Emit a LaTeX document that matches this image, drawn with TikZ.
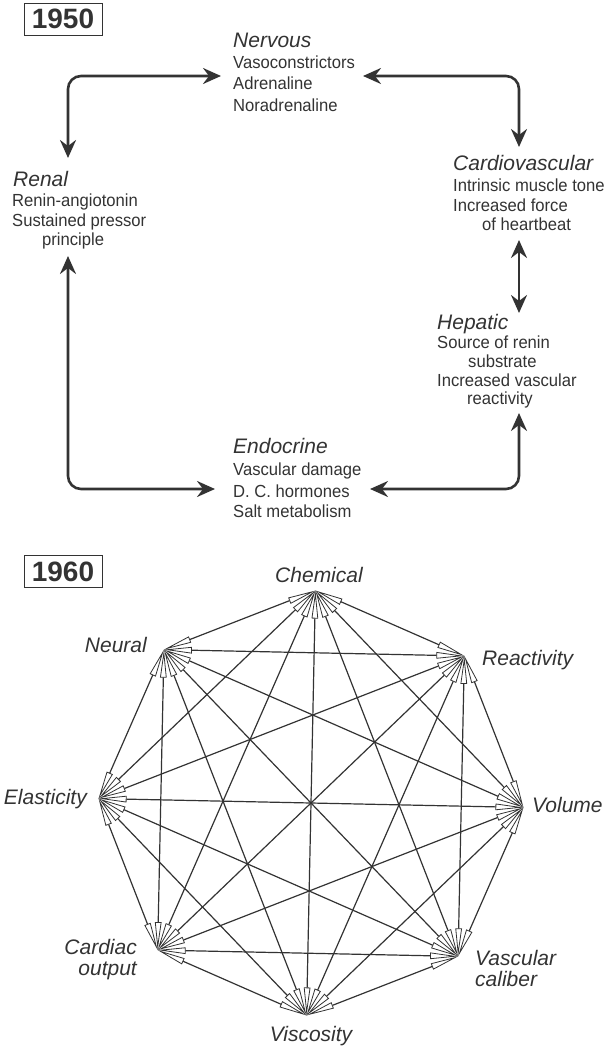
\documentclass[tikz,border=0pt]{standalone}
\usepackage{fontspec}
\setmainfont{Liberation Sans}
\newfontfamily\bodyfamily[FakeStretch=0.95]{Liberation Sans}
\usetikzlibrary{arrows.meta}
\definecolor{ink}{HTML}{333333}

\begin{document}
\begin{tikzpicture}[x=1pt,y=-1pt,
  heading/.style={font=\fontsize{21}{24}\selectfont\itshape, text=ink, inner sep=0pt, anchor=base west},
  bodyline/.style={font=\bodyfamily\fontsize{17.5}{21}\selectfont, text=ink, inner sep=0pt, anchor=base west},
  yearbox/.style={draw=ink, line width=0.8pt, font=\fontsize{28}{30}\selectfont\bfseries, text=ink,
    inner xsep=0pt, inner ysep=6pt, text height=20pt, text depth=0pt, minimum width=78pt},
  link/.style={draw=ink, line width=2.6pt, rounded corners=13pt, {Stealth[length=18pt,width=16pt,inset=6pt]}-{Stealth[length=18pt,width=16pt,inset=6pt]}},
  edge/.style={draw=ink, line width=1.2pt,
    {Triangle[length=28pt,width=6.5pt,fill=white,line width=0.8pt]}-{Triangle[length=28pt,width=6.5pt,fill=white,line width=0.8pt]}},
  vlabel/.style={font=\fontsize{21}{24}\selectfont\itshape, text=ink, inner sep=0pt}
]
\useasboundingbox (0,0) rectangle (607,1048);

% ---------- 1950: ring of five systems ----------
\node[yearbox] (y1950) at (63,19) {1950};

\node[heading] (nervous) at (233,48) {Nervous};
\node[bodyline] (nerv1) at (233,69) {Vasoconstrictors};
\node[bodyline] (nerv2) at (233,90) {Adrenaline};
\node[bodyline] (nerv3) at (233,112) {Noradrenaline};

\node[heading] (renal) at (13,187) {Renal};
\node[bodyline] (ren1) at (12,207) {Renin-angiotonin};
\node[bodyline] (ren2) at (12,227) {Sustained pressor};
\node[bodyline] (ren3) at (42,246) {principle};

\node[heading] (cardio) at (453,171) {Cardiovascular};
\node[bodyline] (car1) at (453,192) {Intrinsic muscle tone};
\node[bodyline] (car2) at (453,212) {Increased force};
\node[bodyline] (car3) at (482,231) {of heartbeat};

\node[heading] (hepatic) at (437,329) {Hepatic};
\node[bodyline] (hep1) at (437,348) {Source of renin};
\node[bodyline] (hep2) at (468,367) {substrate};
\node[bodyline] (hep3) at (437,386) {Increased vascular};
\node[bodyline] (hep4) at (467,404) {reactivity};

\node[heading] (endocrine) at (233,453) {Endocrine};
\node[bodyline] (end1) at (233,475) {Vascular damage};
\node[bodyline] (end2) at (233,497) {D. C. hormones};
\node[bodyline] (end3) at (233,517) {Salt metabolism};

% arrow ends beside each block
\coordinate (renalN) at (68,158);
\coordinate (renalS) at (68,256);
\coordinate (nervW) at (221,76);
\coordinate (nervE) at (363,76);
\coordinate (cardN) at (519,147);
\coordinate (cardS) at (519,240);
\coordinate (hepN) at (519,313);
\coordinate (hepS) at (519,413);
\coordinate (endW) at (215,489);
\coordinate (endE) at (370,489);

\draw[link] (renalN) |- (nervW);
\draw[link] (nervE) -| (cardN);
\draw[link] (cardS) -- (hepN);
\draw[link] (hepS) |- (endE);
\draw[link] (renalS) |- (endW);

% ---------- 1960: every factor linked to every other ----------
\node[yearbox] (y1960) at (63,571) {1960};

\foreach \k/\a in {1/88.8, 2/43.8, 3/-1.2, 4/-46.2, 5/-91.2, 6/-136.2, 7/178.8, 8/133.8}
  \coordinate (v\k) at ({311+212.5*cos(\a)},{803-212.5*sin(\a)});

\foreach \i in {1,...,7}{
  \pgfmathtruncatemacro{\first}{\i+1}
  \foreach \j in {\first,...,8}{
    \draw[edge] (v\i) -- (v\j);
  }
}

\node[vlabel, anchor=base] (chemical) at (319,582) {Chemical};
\node[vlabel, anchor=base west] (reactivity) at (482,665) {Reactivity};
\node[vlabel, anchor=base west] (volume) at (532,812) {Volume};
\node[vlabel, anchor=base west, text depth=0pt] (vascular) at (475,965) {Vascular};
\node[vlabel, anchor=base west, text height=11pt] (caliber) at (475,986) {caliber};
\node[vlabel, anchor=base] (viscosity) at (311,1041) {Viscosity};
\node[vlabel, anchor=base east, text depth=0pt] (cardiac) at (137,954) {Cardiac};
\node[vlabel, anchor=base east, text height=11pt] (output) at (137,975) {output};
\node[vlabel, anchor=base east] (elasticity) at (87,804) {Elasticity};
\node[vlabel, anchor=base east] (neural) at (147,652) {Neural};
\end{tikzpicture}
\end{document}
